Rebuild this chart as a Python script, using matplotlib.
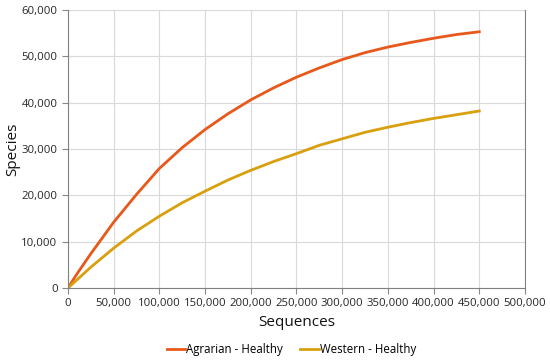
import matplotlib.pyplot as plt
from matplotlib.ticker import FuncFormatter

# rarefaction curves
seq_agr = [0, 10000, 25000, 50000, 75000, 100000, 125000, 150000, 175000, 200000,
           225000, 250000, 275000, 300000, 325000, 350000, 375000, 400000, 425000, 450000]
agrarian = [0, 3100, 7400, 14200, 20200, 25800, 30300, 34200, 37600, 40600,
            43200, 45500, 47500, 49300, 50800, 52000, 53000, 53900, 54700, 55300]

seq_wes = [0, 25000, 50000, 75000, 100000, 125000, 150000, 175000, 200000,
           225000, 250000, 275000, 300000, 325000, 350000, 375000, 400000, 425000, 450000]
western = [0, 4500, 8600, 12300, 15500, 18400, 20900, 23300, 25400,
           27300, 29000, 30800, 32200, 33600, 34700, 35700, 36600, 37400, 38200]

plt.rcParams['font.family'] = ['Open Sans', 'DejaVu Sans']

fig = plt.figure(figsize=(5.5, 3.62), dpi=100)
ax = fig.add_axes([0.1236, 0.2044, 0.8309, 0.768])

ax.plot(seq_agr, agrarian, color="#E8581A", lw=2, label="Agrarian - Healthy")
ax.plot(seq_wes, western, color="#D8A00E", lw=2, label="Western - Healthy")

ax.set_xlim(0, 500000)
ax.set_ylim(0, 60000)
ax.set_xticks(range(0, 500001, 50000))
ax.set_yticks(range(0, 60001, 10000))
fmt = FuncFormatter(lambda v, p: f"{int(v):,}")
ax.xaxis.set_major_formatter(fmt)
ax.yaxis.set_major_formatter(fmt)
ax.tick_params(labelsize=8.2, colors="#262626", length=4, color="#888888")
ax.grid(True, color="#d9d9d9", lw=0.8)
ax.set_axisbelow(True)
for s in ["left", "bottom", "right"]:
    ax.spines[s].set_color("#808080")
ax.spines["top"].set_visible(False)

ax.set_xlabel("Sequences", fontsize=11, color="#111111", labelpad=4)
ax.set_ylabel("Species", fontsize=11, color="#111111")
ax.yaxis.set_label_coords(-0.105, 0.5)

fig.legend(loc="lower center", bbox_to_anchor=(0.53, -0.012), ncol=2, frameon=False,
           fontsize=8.3, handlelength=1.6, handletextpad=0.1, columnspacing=1.5)

fig.savefig("out.png", dpi=100)
